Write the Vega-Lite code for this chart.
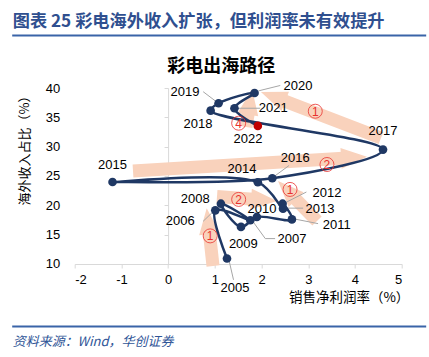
{
  "$schema": "https://vega.github.io/schema/vega-lite/v6.json",
  "padding": {"left": 11.7, "top": 12, "right": 3, "bottom": 4},
  "spacing": 22,
  "config": {"view": {"stroke": null}, "font": "Liberation Sans"},
  "datasets": {
    "pts": [
      {"year": 2005, "x": 1.26, "y": 10.93, "lx": 1.43, "ly": 5.95},
      {"year": 2006, "x": 1.01, "y": 19.15, "lx": 0.26, "ly": 17.28},
      {"year": 2007, "x": 1.76, "y": 17.45, "lx": 2.65, "ly": 14.33},
      {"year": 2008, "x": 1.13, "y": 20.28, "lx": 0.58, "ly": 21.13},
      {"year": 2009, "x": 1.56, "y": 16.32, "lx": 1.61, "ly": 13.48},
      {"year": 2010, "x": 1.90, "y": 18.02, "lx": 2.01, "ly": 19.43},
      {"year": 2011, "x": 2.65, "y": 17.6, "lx": 3.61, "ly": 16.6},
      {"year": 2012, "x": 2.45, "y": 20.28, "lx": 3.40, "ly": 22.1},
      {"year": 2013, "x": 2.46, "y": 19.43, "lx": 3.25, "ly": 19.43},
      {"year": 2014, "x": 1.92, "y": 23.94, "lx": 1.58, "ly": 26.23},
      {"year": 2015, "x": -1.19, "y": 23.97, "lx": -1.19, "ly": 26.8},
      {"year": 2016, "x": 2.23, "y": 24.62, "lx": 2.72, "ly": 28.05},
      {"year": 2017, "x": 4.60, "y": 29.5, "lx": 4.60, "ly": 32.74},
      {"year": 2018, "x": 0.91, "y": 36.14, "lx": 0.64, "ly": 33.9},
      {"year": 2019, "x": 1.08, "y": 37.4, "lx": 0.36, "ly": 39.37},
      {"year": 2020, "x": 1.85, "y": 39.15, "lx": 2.78, "ly": 40.4},
      {"year": 2021, "x": 1.42, "y": 36.55, "lx": 2.25, "ly": 36.55},
      {"year": 2022, "x": 1.92, "y": 33.54, "lx": 1.71, "ly": 31.33}
    ],
    "leaders": [
      {"x": 0.75, "y": 39.37, "x2": 1.01, "y2": 37.8},
      {"x": 1.97, "y": 36.55, "x2": 1.50, "y2": 36.55},
      {"x": 2.40, "y": 40.43, "x2": 1.93, "y2": 39.5},
      {"x": 2.59, "y": 26.8, "x2": 2.29, "y2": 25.04},
      {"x": 2.96, "y": 22.27, "x2": 2.51, "y2": 20.45},
      {"x": 2.89, "y": 19.52, "x2": 2.55, "y2": 19.52},
      {"x": 3.21, "y": 16.88, "x2": 2.72, "y2": 17.65},
      {"x": 2.29, "y": 14.33, "x2": 2.08, "y2": 14.33},
      {"x": 2.08, "y": 14.33, "x2": 1.80, "y2": 17.4},
      {"x": 0.75, "y": 17.28, "x2": 0.96, "y2": 18.9},
      {"x": 1.40, "y": 7.3, "x2": 1.31, "y2": 10.4}
    ],
    "arrows": [
      {"tx": 0.961, "ty": 9.66, "bx": 0.882, "by": 15.42, "hx": 0.856, "hy": 17.30, "heading": -6.2},
      {"tx": 1.046, "ty": 21.51, "bx": 1.819, "by": 21.05, "hx": 2.053, "hy": 20.91, "heading": 94.3},
      {"tx": 3.187, "ty": 17.33, "bx": 2.712, "by": 21.22, "hx": 2.547, "hy": 22.56, "heading": -44.3},
      {"tx": -0.752, "ty": 25.85, "bx": 3.744, "by": 28.03, "hx": 3.980, "hy": 28.15, "heading": 86.5},
      {"tx": 4.557, "ty": 31.48, "bx": 2.468, "by": 37.85, "hx": 2.247, "hy": 38.52, "heading": -69.0},
      {"tx": 1.668, "ty": 33.35, "bx": 1.717, "by": 35.79, "hx": 1.753, "hy": 37.65, "heading": 9.0}
    ],
    "nums": [
      {"n": "1", "x": 0.90, "y": 14.79},
      {"n": "2", "x": 1.51, "y": 21.01},
      {"n": "1", "x": 2.61, "y": 22.71},
      {"n": "2", "x": 3.40, "y": 26.96},
      {"n": "1", "x": 3.15, "y": 36.04},
      {"n": "4", "x": 1.51, "y": 34.0}
    ]
  },
  "vconcat": [
    {
      "width": 327,
      "height": 1,
      "title": {"text": "图表 25 彩电海外收入扩张，但利润率未有效提升", "anchor": "start", "frame": "group", "dx": -62, "font": "Noto Sans CJK SC", "fontSize": 17.2, "fontWeight": "bold", "color": "#2f4f8f", "offset": 4},
      "data": {"values": []},
      "mark": "rule",
      "encoding": {
        "x": {"field": "v", "type": "quantitative", "scale": {"domain": [0, 1], "range": [-63, 351]},
              "axis": {"orient": "bottom", "domain": true, "domainColor": "#3a64a8", "domainWidth": 2, "ticks": false, "labels": false, "grid": false, "title": null}}
      }
    },
    {
      "width": 327,
      "height": 176,
      "title": {"text": "彩电出海路径", "font": "Noto Sans CJK SC", "fontSize": 18, "fontWeight": "bold", "color": "#000000", "anchor": "middle", "frame": "group", "dx": -17, "offset": 4},
      "resolve": {"axis": {"x": "independent", "y": "independent"}},
      "layer": [
        {
          "data": {"name": "arrows"},
          "mark": {"type": "rule", "strokeWidth": 13, "strokeCap": "butt", "color": "#f9d2bc"},
          "encoding": {
            "x": {"field": "tx", "type": "quantitative", "scale": {"domain": [-2, 5]}, "axis": null},
            "y": {"field": "ty", "type": "quantitative", "scale": {"domain": [10, 40]},
                  "axis": {"orient": "left", "offset": 63, "domain": true, "domainColor": "#ffffff", "ticks": false, "labels": false, "grid": false, "title": null}},
            "x2": {"field": "bx"},
            "y2": {"field": "by"}
          }
        },
        {
          "data": {"name": "arrows"},
          "mark": {"type": "point", "shape": "M0,-1L0.8,1L-0.8,1Z", "filled": true, "size": 676, "color": "#f9d2bc", "opacity": 1, "strokeWidth": 0},
          "encoding": {
            "x": {"field": "hx", "type": "quantitative", "scale": {"domain": [-2, 5]}, "axis": null},
            "y": {"field": "hy", "type": "quantitative", "scale": {"domain": [10, 40]}, "axis": null},
            "angle": {"field": "heading", "type": "quantitative", "scale": null}
          }
        },
        {
          "data": {"name": "leaders"},
          "mark": {"type": "rule", "strokeWidth": 1, "color": "#a6a6a6"},
          "encoding": {
            "x": {"field": "x", "type": "quantitative", "scale": {"domain": [-2, 5]}, "axis": null},
            "y": {"field": "y", "type": "quantitative", "scale": {"domain": [10, 40]}, "axis": null},
            "x2": {"field": "x2"},
            "y2": {"field": "y2"}
          }
        },
        {
          "data": {"name": "pts"},
          "mark": {"type": "line", "interpolate": "catmull-rom", "color": "#1f3864", "strokeWidth": 2.5},
          "encoding": {
            "x": {"field": "x", "type": "quantitative", "scale": {"domain": [-2, 5]},
                  "axis": {"orient": "bottom", "values": [-2, -1, 0, 1, 2, 3, 4, 5], "labelExpr": "datum.value < 0 ? '-' + abs(datum.value) : '' + datum.value", "domain": true, "domainColor": "#d9d9d9", "ticks": true, "tickColor": "#d9d9d9", "tickSize": 4, "labels": true, "labelFont": "Liberation Sans", "labelFontSize": 13, "labelColor": "#000000", "labelPadding": 6, "grid": false,
                           "title": "销售净利润率（%）", "titleFont": "Noto Sans CJK SC", "titleFontSize": 13.5, "titleFontWeight": "normal", "titleColor": "#000000", "titleX": 274, "titleY": 33.5, "titleAlign": "center", "titleBaseline": "middle"}},
            "y": {"field": "y", "type": "quantitative", "scale": {"domain": [10, 40]},
                  "axis": {"orient": "left", "values": [10, 15, 20, 25, 30, 35, 40], "domain": false, "ticks": false, "tickSize": 0, "labelPadding": 15, "labelFont": "Liberation Sans", "labelFontSize": 13, "labelColor": "#000000", "grid": false,
                           "title": "海外收入占比（%）", "titleFont": "Noto Sans CJK SC", "titleFontSize": 13, "titleFontWeight": "normal", "titleColor": "#000000", "titleX": -50, "titleY": 59, "titleAngle": 270, "titleAlign": "center", "titleBaseline": "middle"}},
            "order": {"field": "year", "type": "quantitative"}
          }
        },
        {
          "data": {"name": "pts"},
          "mark": {"type": "circle", "size": 75, "opacity": 1},
          "encoding": {
            "x": {"field": "x", "type": "quantitative", "scale": {"domain": [-2, 5]}, "axis": null},
            "y": {"field": "y", "type": "quantitative", "scale": {"domain": [10, 40]},
                  "axis": {"orient": "left", "offset": -93.4, "values": [10, 15, 20, 25, 30, 35, 40], "domain": true, "domainColor": "#d9d9d9", "ticks": true, "tickColor": "#d9d9d9", "tickSize": 4, "labels": false, "grid": false, "title": null}},
            "color": {"condition": {"test": "datum.year === 2022", "value": "#c00000"}, "value": "#1f3864"}
          }
        },
        {
          "data": {"name": "pts"},
          "mark": {"type": "text", "font": "Liberation Sans", "fontSize": 13, "color": "#000000", "align": "center", "baseline": "middle"},
          "encoding": {
            "x": {"field": "lx", "type": "quantitative", "scale": {"domain": [-2, 5]}, "axis": null},
            "y": {"field": "ly", "type": "quantitative", "scale": {"domain": [10, 40]}, "axis": null},
            "text": {"field": "year", "type": "nominal"}
          }
        },
        {
          "data": {"name": "nums"},
          "mark": {"type": "point", "shape": "circle", "filled": false, "size": 196, "color": "#e8312f", "strokeWidth": 0.8, "opacity": 1},
          "encoding": {
            "x": {"field": "x", "type": "quantitative", "scale": {"domain": [-2, 5]}, "axis": null},
            "y": {"field": "y", "type": "quantitative", "scale": {"domain": [10, 40]}, "axis": null}
          }
        },
        {
          "data": {"name": "nums"},
          "mark": {"type": "text", "font": "Liberation Sans", "fontSize": 12, "color": "#e8312f", "align": "center", "baseline": "middle", "dy": 0.5},
          "encoding": {
            "x": {"field": "x", "type": "quantitative", "scale": {"domain": [-2, 5]}, "axis": null},
            "y": {"field": "y", "type": "quantitative", "scale": {"domain": [10, 40]}, "axis": null},
            "text": {"field": "n", "type": "nominal"}
          }
        }
      ]
    },
    {
      "width": 327,
      "height": 1,
      "title": {"text": "资料来源：Wind，华创证券", "orient": "bottom", "anchor": "start", "frame": "group", "dx": -62, "font": "Noto Sans CJK SC", "fontSize": 13, "fontStyle": "italic", "fontWeight": "normal", "color": "#2f5597", "offset": 9},
      "data": {"values": []},
      "mark": "rule",
      "encoding": {
        "x": {"field": "v", "type": "quantitative", "scale": {"domain": [0, 1], "range": [-63, 351]},
              "axis": {"orient": "top", "domain": true, "domainColor": "#3a64a8", "domainWidth": 2, "ticks": false, "labels": false, "grid": false, "title": null}}
      }
    }
  ]
}
